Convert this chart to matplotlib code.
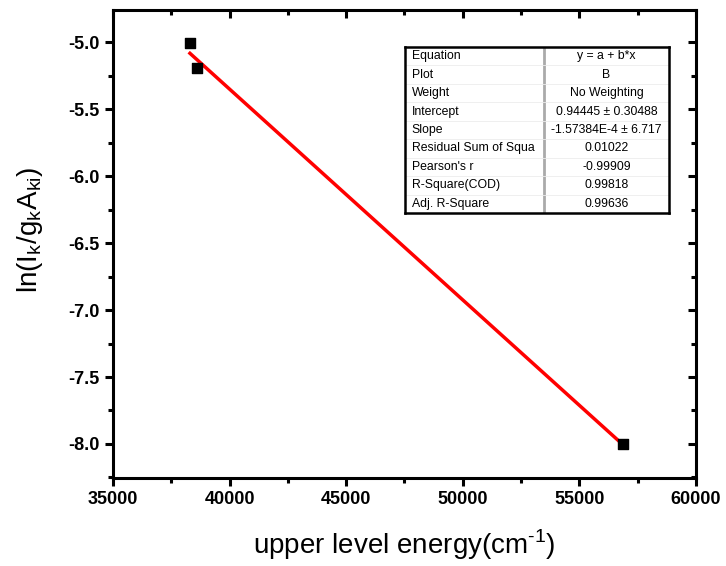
import matplotlib
matplotlib.use("Agg")
import numpy as np
import matplotlib.pyplot as plt
from matplotlib.ticker import MultipleLocator, AutoMinorLocator

plt.rcParams['font.family'] = ['Liberation Sans', 'DejaVu Sans']
plt.rcParams['mathtext.fontset'] = 'custom'
plt.rcParams['mathtext.rm'] = 'Liberation Sans'
plt.rcParams['axes.unicode_minus'] = False

# upper level energy (cm-1) and ln(I/gA)
energy = [38300, 38590, 56880]
ln_iga = [-5.005, -5.196, -8.002]

# linear fit results
intercept = 0.94445
slope = -1.57384e-4

fit_rows = ["Equation", "Plot", "Weight", "Intercept", "Slope",
            "Residual Sum of Squa", "Pearson's r", "R-Square(COD)", "Adj. R-Square"]
fit_vals = ["y = a + b*x", "B", "No Weighting", "0.94445 \u00b1 0.30488",
            "-1.57384E-4 \u00b1 6.717", "0.01022", "-0.99909", "0.99818", "0.99636"]

fig = plt.figure(figsize=(7.26, 5.66), dpi=100)
ax = fig.add_axes([113/726, 88/566, 583/726, 468/566])

ax.scatter(energy, ln_iga, marker='s', s=55, color='black', zorder=3)
xf = np.array([min(energy), max(energy)])
ax.plot(xf, intercept + slope * xf, color='#ff0000', lw=2.5, zorder=2)

ax.set_xlim(35000, 60000)
ax.set_ylim(-8.254, -4.76)
ax.xaxis.set_major_locator(MultipleLocator(5000))
ax.yaxis.set_major_locator(MultipleLocator(0.5))
ax.xaxis.set_minor_locator(AutoMinorLocator(2))
ax.yaxis.set_minor_locator(AutoMinorLocator(2))

for s in ax.spines.values():
    s.set_linewidth(2.2)
ax.tick_params(which='major', length=6, width=2.2, labelsize=13)
ax.tick_params(which='minor', length=3.5, width=2.2)
ax.tick_params(which='both', top=True, right=True)
ax.tick_params(which='both', axis='x', direction='out')
ax.tick_params(which='both', axis='y', direction='out')
# top and right ticks point into the frame
for t in ax.xaxis.get_major_ticks() + ax.xaxis.get_minor_ticks():
    t.tick2line.set_marker(3)
for t in ax.yaxis.get_major_ticks() + ax.yaxis.get_minor_ticks():
    t.tick2line.set_marker(0)
for lbl in ax.get_xticklabels() + ax.get_yticklabels():
    lbl.set_fontweight('bold')

ax.set_xlabel('upper level energy(cm$^{\\text{-1}}$)', fontsize=20, labelpad=14)
ax.set_ylabel('ln(I$_\\mathregular{k}$/g$_\\mathregular{k}$A$_\\mathregular{ki}$)',
              fontsize=20, labelpad=17, y=0.53)

# fit results table
tx0, tx1, ty0, ty1 = 405, 669, 47, 213
tab = fig.add_axes([tx0/726, 1 - ty1/566, (tx1 - tx0)/726, (ty1 - ty0)/566])
tab.set_xlim(0, 1)
tab.set_ylim(len(fit_rows), 0)
tab.set_xticks([])
tab.set_yticks([])
for s in tab.spines.values():
    s.set_linewidth(1.8)
split = (544 - tx0) / (tx1 - tx0)
tab.axvline(split, color='#aaaaaa', lw=2)
for i in range(1, len(fit_rows)):
    tab.axhline(i, color='#ececec', lw=0.6)
for i, (name, val) in enumerate(zip(fit_rows, fit_vals)):
    tab.text(0.025, i + 0.5, name, fontsize=8.8, va='center', ha='left')
    tab.text((split + 1) / 2, i + 0.5, val, fontsize=8.8, va='center', ha='center')

fig.savefig('out.png', dpi=100)
